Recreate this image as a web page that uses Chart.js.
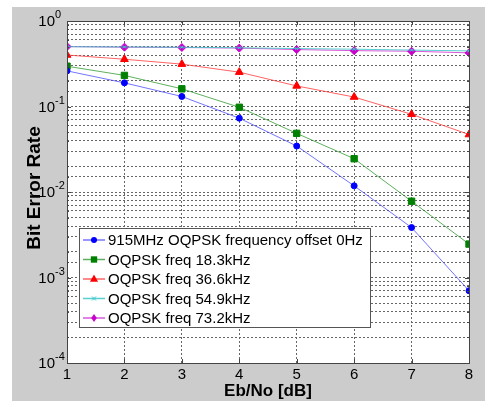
<!DOCTYPE html>
<html>
<head>
<meta charset="utf-8">
<script src="https://cdn.jsdelivr.net/npm/chart.js@4"></script>
<style>
body { margin: 0; background: #fff; }
#wrap { position: absolute; left: 12px; top: 7px; width: 473px; height: 394px; background: #cccccc; }
</style>
</head>
<body>
<div id="wrap"><canvas id="berChart"></canvas></div>
<script>
// Eb/No (dB) values
const ebNo = [1, 2, 3, 4, 5, 6, 7, 8];

// bit error rate per frequency offset
const ber0Hz    = [0.261, 0.189, 0.131, 0.073, 0.0345, 0.0118, 0.00384, 0.0007];
const ber18k3   = [0.296, 0.231, 0.161, 0.098, 0.0485, 0.0245, 0.0078, 0.00246];
const ber36k6   = [0.400, 0.357, 0.313, 0.252, 0.174, 0.129, 0.081, 0.047];
const ber54k9   = [0.500, 0.497, 0.493, 0.486, 0.476, 0.468, 0.457, 0.447];
const ber73k2   = [0.502, 0.494, 0.490, 0.482, 0.463, 0.450, 0.443, 0.424];

const seriesLabels = [
    '915MHz OQPSK frequency offset 0Hz',
    'OQPSK freq 18.3kHz',
    'OQPSK freq 36.6kHz',
    'OQPSK freq 54.9kHz',
    'OQPSK freq 73.2kHz'
];
const yDecades = [0, -1, -2, -3, -4];

const FONT = "'Liberation Sans', Arial, sans-serif";

function serie(label, values, line, mark, style, radius) {
    return {
        label: label,
        data: ebNo.map((x, i) => ({ x: x, y: values[i] })),
        borderColor: line,
        backgroundColor: mark,
        pointBorderColor: mark,
        pointBackgroundColor: mark,
        pointStyle: style,
        pointRadius: radius,
        borderWidth: 1,
        pointBorderWidth: 1,
        tension: 0
    };
}

const datasets = [
    serie(seriesLabels[0], ber0Hz, 'rgba(70,70,255,0.75)', '#0000ff', 'circle', 3),
    serie(seriesLabels[1], ber18k3, 'rgba(40,150,40,0.75)', '#008000', 'rect', 4.5),
    serie(seriesLabels[2], ber36k6, 'rgba(255,60,60,0.8)', '#ff0000', 'triangle', 4.5),
    serie(seriesLabels[3], ber54k9, 'rgba(60,200,200,0.85)', '#33cccc', 'crossRot', 2),
    serie(seriesLabels[4], ber73k2, 'rgba(210,60,210,0.85)', '#cc00cc', 'rectRot', 4)
];

function drawMarker(ctx, style, x, y, r, color) {
    ctx.save();
    ctx.fillStyle = color;
    ctx.strokeStyle = color;
    ctx.lineWidth = 1;
    ctx.beginPath();
    if (style === 'circle') {
        ctx.arc(x, y, r, 0, Math.PI * 2);
        ctx.fill();
    } else if (style === 'rect') {
        const s = Math.SQRT1_2 * r;
        ctx.fillRect(x - s, y - s, 2 * s, 2 * s);
    } else if (style === 'triangle') {
        ctx.moveTo(x, y - r);
        ctx.lineTo(x + r * 0.9, y + r * 0.6);
        ctx.lineTo(x - r * 0.9, y + r * 0.6);
        ctx.closePath();
        ctx.fill();
    } else if (style === 'crossRot') {
        ctx.moveTo(x - r, y - r); ctx.lineTo(x + r, y + r);
        ctx.moveTo(x + r, y - r); ctx.lineTo(x - r, y + r);
        ctx.stroke();
    } else {
        ctx.moveTo(x, y - r); ctx.lineTo(x + r * 0.7, y);
        ctx.lineTo(x, y + r); ctx.lineTo(x - r * 0.7, y);
        ctx.closePath();
        ctx.fill();
    }
    ctx.restore();
}

const matlabLook = {
    id: 'matlabLook',
    beforeDraw(chart) {
        const { ctx, chartArea: a } = chart;
        ctx.save();
        ctx.fillStyle = '#ffffff';
        ctx.fillRect(a.left, a.top, a.right - a.left, a.bottom - a.top);
        ctx.restore();
    },
    afterDraw(chart) {
        const { ctx, chartArea: a } = chart;
        const yScale = chart.scales.y;
        const xScale = chart.scales.x;
        ctx.save();

        // frame
        ctx.strokeStyle = '#444';
        ctx.lineWidth = 1;
        ctx.strokeRect(Math.round(a.left) + 0.5, Math.round(a.top) + 0.5,
            Math.round(a.right - a.left), Math.round(a.bottom - a.top));

        // small inward tick marks (matlab style)
        ctx.beginPath();
        ebNo.forEach(v => {
            const px = Math.round(xScale.getPixelForValue(v)) + 0.5;
            ctx.moveTo(px, a.bottom); ctx.lineTo(px, a.bottom - 4);
            ctx.moveTo(px, a.top); ctx.lineTo(px, a.top + 4);
        });
        yScale.ticks.forEach(t => {
            const py = Math.round(yScale.getPixelForValue(t.value)) + 0.5;
            const len = t.major ? 4 : 2;
            ctx.moveTo(a.left, py); ctx.lineTo(a.left + len, py);
            ctx.moveTo(a.right, py); ctx.lineTo(a.right - len, py);
        });
        ctx.stroke();

        // y tick labels 10^k
        ctx.fillStyle = '#000';
        yDecades.forEach(k => {
            const py = yScale.getPixelForValue(Math.pow(10, k));
            ctx.font = '15px ' + FONT;
            ctx.textAlign = 'right';
            ctx.textBaseline = 'middle';
            ctx.fillText('10', a.left - 12, py + 1);
            ctx.font = '11px ' + FONT;
            ctx.textAlign = 'left';
            ctx.textBaseline = 'alphabetic';
            ctx.fillText(String(k), a.left - 12, py - 3);
        });

        // axis titles
        ctx.font = 'bold 17px ' + FONT;
        ctx.textAlign = 'center';
        ctx.textBaseline = 'middle';
        ctx.fillText('Eb/No [dB]', (a.left + a.right) / 2, 384);
        ctx.save();
        ctx.translate(23, 181);
        ctx.rotate(-Math.PI / 2);
        ctx.font = 'bold 19px ' + FONT;
        ctx.fillText('Bit Error Rate', 0, 0);
        ctx.restore();

        // legend
        const lx = 67, ly = 221, lw = 291, lh = 99;
        ctx.fillStyle = '#fff';
        ctx.fillRect(lx, ly, lw, lh);
        ctx.strokeStyle = '#555';
        ctx.lineWidth = 1;
        ctx.strokeRect(lx + 0.5, ly + 0.5, lw, lh);
        chart.data.datasets.forEach((ds, i) => {
            const cy = ly + 12 + i * 19.5;
            ctx.strokeStyle = ds.borderColor;
            ctx.lineWidth = 1.5;
            ctx.beginPath();
            ctx.moveTo(lx + 4, cy);
            ctx.lineTo(lx + 26, cy);
            ctx.stroke();
            drawMarker(ctx, ds.pointStyle, lx + 15, cy, ds.pointRadius, ds.pointBackgroundColor);
            ctx.fillStyle = '#000';
            ctx.font = '15px ' + FONT;
            ctx.textAlign = 'left';
            ctx.textBaseline = 'middle';
            ctx.fillText(ds.label, lx + 29, cy + 1);
        });
        ctx.restore();
    }
};

const gridLook = {
    display: true,
    color: '#666',
    lineWidth: 1,
    drawTicks: false
};

const ctx = document.getElementById('berChart').getContext('2d');
const berChart = new Chart(ctx, {
    type: 'line',
    data: { datasets: datasets },
    options: {
        responsive: true,
        maintainAspectRatio: false,
        animation: false,
        layout: { padding: { top: 14, right: 16, left: 0, bottom: 0 } },
        plugins: {
            legend: { display: false },
            tooltip: { enabled: false }
        },
        scales: {
            x: {
                type: 'linear',
                min: 1,
                max: 8,
                grid: gridLook,
                border: { display: false, dash: [2, 2] },
                ticks: {
                    stepSize: 1,
                    color: '#000',
                    font: { family: FONT, size: 15 },
                    padding: 3
                },
                afterFit(scale) { scale.height = 38; }
            },
            y: {
                type: 'logarithmic',
                min: 0.0001,
                max: 1,
                grid: gridLook,
                border: { display: false, dash: [2, 2] },
                ticks: { display: false, autoSkip: false },
                afterFit(scale) { scale.width = 55; }
            }
        }
    },
    plugins: [matlabLook]
});
</script>
</body>
</html>
